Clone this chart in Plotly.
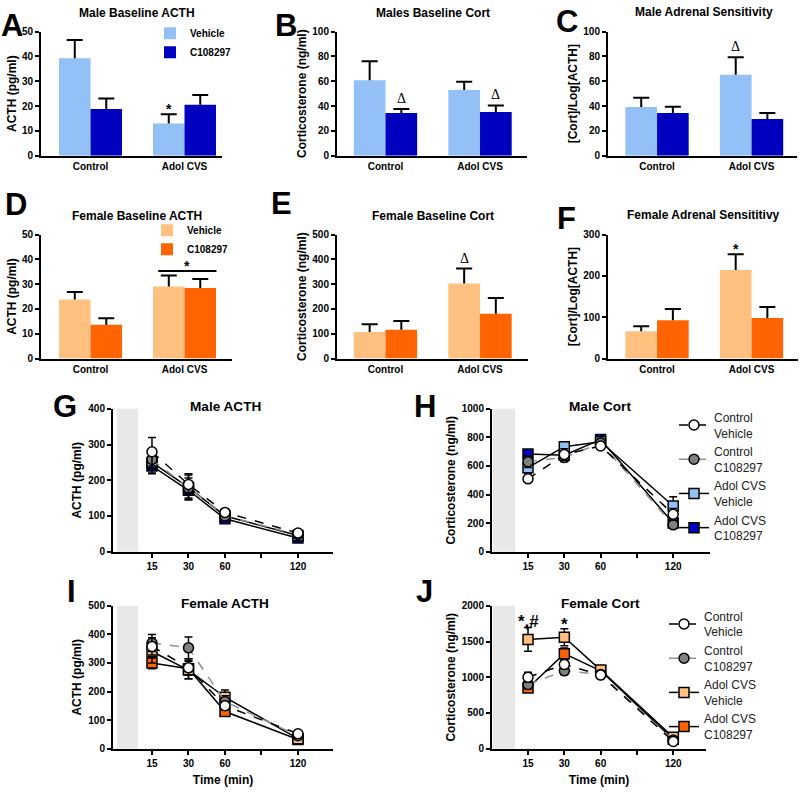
import plotly.graph_objects as go

W, H = 800, 797
FONT = "Liberation Sans, Arial, Helvetica, sans-serif"
SERIF = "Liberation Serif, Times New Roman, serif"

LBLUE = "#93C0F6"
DBLUE = "#0000BF"
LORANGE = "#FFC080"
ORANGE = "#FF6400"
GRAY = "#808080"

groups = ["Control", "Adol CVS"]

# ---- bar panels (mean, SEM) ----
a_veh = [39.3, 13.0]; a_veh_err = [7.3, 3.7]
a_drug = [18.8, 20.5]; a_drug_err = [4.3, 4.0]

b_veh = [60.8, 52.9]; b_veh_err = [15.4, 6.6]
b_drug = [34.4, 35.2]; b_drug_err = [3.2, 5.3]

c_veh = [39.2, 65.3]; c_veh_err = [7.6, 14.1]
c_drug = [34.4, 29.6]; c_drug_err = [5.0, 4.8]

d_veh = [23.8, 29.1]; d_veh_err = [3.0, 4.4]
d_drug = [13.6, 28.4]; d_drug_err = [2.7, 3.7]

e_veh = [107, 303]; e_veh_err = [31, 60]
e_drug = [116, 181]; e_drug_err = [36, 63]

f_veh = [66, 214]; f_veh_err = [12, 38]
f_drug = [93, 98]; f_drug_err = [27, 27]

# ---- time courses ----
times = [15, 30, 60, 120]
tick_times = [15, 30, 60, 90, 120]
tick_labels = ["15", "30", "60", "", "120"]
series_names = ["Control<br>Vehicle", "Control<br>C108297", "Adol CVS<br>Vehicle", "Adol CVS<br>C108297"]

# G Male ACTH
g_cv = [280, 188, 110, 52];  g_cv_err = [40, 30, 10, 8]
g_cc = [258, 178, 100, 48];  g_cc_err = [25, 28, 10, 6]
g_av = [250, 180, 100, 45];  g_av_err = [30, 35, 12, 6]
g_ac = [240, 172, 92, 38];   g_ac_err = [22, 25, 8, 5]
# H Male Cort
h_cv = [510, 680, 740, 262]; h_cv_err = [20, 40, 20, 40]
h_cc = [630, 660, 760, 188]; h_cc_err = [40, 30, 25, 20]
h_av = [588, 735, 770, 320]; h_av_err = [40, 30, 25, 65]
h_ac = [684, 675, 785, 200]; h_ac_err = [30, 40, 30, 25]
# I Female ACTH
i_cv = [358, 283, 150, 52];  i_cv_err = [30, 25, 15, 6]
i_cc = [370, 353, 165, 45];  i_cc_err = [30, 38, 20, 6]
i_av = [340, 275, 180, 35];  i_av_err = [40, 30, 25, 5]
i_ac = [300, 280, 130, 32];  i_ac_err = [20, 35, 15, 5]
# J Female Cort
j_cv = [1000, 1180, 1030, 100]; j_cv_err = [70, 60, 40, 20]
j_cc = [900, 1090, 1040, 120];  j_cc_err = [60, 50, 40, 20]
j_av = [1530, 1560, 1100, 160]; j_av_err = [165, 120, 50, 30]
j_ac = [850, 1330, 1090, 130];  j_ac_err = [60, 80, 50, 20]

time_pos = {t: i + 1 for i, t in enumerate(tick_times)}
xpos = [time_pos[t] for t in times]

fig = go.Figure()
layout = {}
annotations = []
shapes = []

BAR_OFF = 0.1675
CAP = 0.085


def px_x(p):
    return p / W


def px_y(p):
    return 1 - p / H


def whiskers(vals, errs, offset, cap):
    xs, ys = [], []
    for i, (v, e) in enumerate(zip(vals, errs)):
        xc = i + offset
        xs += [xc, xc, None, xc - cap, xc + cap, None]
        ys += [v, v + e, None, v + e, v + e, None]
    return xs, ys


def yaxis_common(k, ytop, ybot, yr, dtick, title, standoff):
    return dict(domain=[px_y(ybot), px_y(ytop)], range=yr, dtick=dtick,
                showline=True, linecolor="black", linewidth=2, ticks="outside",
                ticklen=4, tickwidth=2, tickcolor="black", showgrid=False, zeroline=False,
                tickfont=dict(size=10, family=FONT, color="black", weight="bold"),
                title=dict(text=title, font=dict(size=12, family=FONT, color="black", weight="bold"),
                           standoff=standoff),
                anchor=f"x{k}", fixedrange=True)


bar_panels = [
    (1, a_veh, a_veh_err, a_drug, a_drug_err, (LBLUE, DBLUE), 41, 222, 26, 152, [-0.527, 1.399], [0, 50], 10, "ACTH (pg/ml)", "legend"),
    (2, b_veh, b_veh_err, b_drug, b_drug_err, (LBLUE, DBLUE), 337, 527, 26, 152, [-0.513, 1.497], [0, 100], 20, "Corticosterone (ng/ml)", None),
    (3, c_veh, c_veh_err, c_drug, c_drug_err, (LBLUE, DBLUE), 608, 797, 26, 152, [-0.519, 1.481], [0, 100], 20, "[Cort]/Log[ACTH]", None),
    (4, d_veh, d_veh_err, d_drug, d_drug_err, (LORANGE, ORANGE), 41, 232, 232, 358, [-0.527, 1.505], [0, 50], 10, "ACTH (pg/ml)", "legend2"),
    (5, e_veh, e_veh_err, e_drug, e_drug_err, (LORANGE, ORANGE), 337, 528, 232, 358, [-0.513, 1.508], [0, 500], 100, "Corticosterone (ng/ml)", None),
    (6, f_veh, f_veh_err, f_drug, f_drug_err, (LORANGE, ORANGE), 608, 798, 232, 358, [-0.519, 1.492], [0, 300], 100, "[Cort]/Log[ACTH]", None),
]

for (k, veh, veh_err, drug, drug_err, cols, x0, x1, ytop, ybot, xr, yr, dtick, ytitle, leg) in bar_panels:
    for name, vals, col in (("Vehicle", veh, cols[0]), ("C108297", drug, cols[1])):
        fig.add_trace(go.Bar(x=[0, 1], y=vals, name=name, marker=dict(color=col, line=dict(width=0)),
                             offsetgroup=name, xaxis=f"x{k}", yaxis=f"y{k}",
                             showlegend=leg is not None, legend=leg if leg else "legend",
                             hoverinfo="skip"))
    for vals, errs, off in ((veh, veh_err, -BAR_OFF), (drug, drug_err, BAR_OFF)):
        xs, ys = whiskers(vals, errs, off, CAP)
        fig.add_trace(go.Scatter(x=xs, y=ys, mode="lines", line=dict(color="black", width=2),
                                 xaxis=f"x{k}", yaxis=f"y{k}", showlegend=False, hoverinfo="skip"))
    layout[f"xaxis{k}"] = dict(domain=[px_x(x0), px_x(x1)], range=xr, tickvals=[0, 1], ticktext=groups,
                               showline=True, linecolor="black", linewidth=2, ticks="", showgrid=False,
                               zeroline=False, anchor=f"y{k}", fixedrange=True,
                               tickfont=dict(size=10, family=FONT, color="black", weight="bold"))
    layout[f"yaxis{k}"] = yaxis_common(k, ytop, ybot, yr, dtick, ytitle, 3)

styles = [
    dict(symbol="circle", line=dict(color="black", width=1.5, dash="dash")),
    dict(symbol="circle", line=dict(color="#8f8f8f", width=1.5, dash="dash")),
    dict(symbol="square", line=dict(color="black", width=1.5)),
    dict(symbol="square", line=dict(color="black", width=1.5)),
]

line_panels = [
    (7, [g_cv, g_cc, g_av, g_ac], [g_cv_err, g_cc_err, g_av_err, g_ac_err], LBLUE, DBLUE,
     113, 333, 409, 554, [-0.068, 5.959], [0, 400], 100, "ACTH (pg/ml)", None, "", (0.041, 0.616)),
    (8, [h_cv, h_cc, h_av, h_ac], [h_cv_err, h_cc_err, h_av_err, h_ac_err], LBLUE, DBLUE,
     492, 710, 409, 554, [0.008, 6.014], [0, 1000], 200, "Corticosterone (ng/ml)", "legend3", "", (0.036, 0.642)),
    (9, [i_cv, i_cc, i_av, i_ac], [i_cv_err, i_cc_err, i_av_err, i_ac_err], LORANGE, ORANGE,
     113, 333, 609, 754, [-0.068, 5.959], [0, 500], 100, "ACTH (pg/ml)", None, "Time (min)", (0.041, 0.616)),
    (10, [j_cv, j_cc, j_av, j_ac], [j_cv_err, j_cc_err, j_av_err, j_ac_err], LORANGE, ORANGE,
     492, 706, 609, 754, [0.008, 5.90], [0, 2000], 500, "Corticosterone (ng/ml)", "legend4", "Time (min)", (0.036, 0.642)),
]

for (k, series, errs, light, dark, x0, x1, ytop, ybot, xr, yr, dtick, ytitle, leg, xtitle, shade) in line_panels:
    fills = ["white", GRAY, light, dark]
    for idx in (3, 2, 1, 0):
        st = styles[idx]
        fig.add_trace(go.Scatter(
            x=xpos, y=series[idx], name=series_names[idx], mode="lines+markers",
            line=st["line"],
            marker=dict(symbol=st["symbol"], size=10, color=fills[idx], line=dict(color="black", width=1.5)),
            error_y=dict(type="data", array=errs[idx], visible=True, color="black", thickness=1.5, width=4),
            xaxis=f"x{k}", yaxis=f"y{k}", showlegend=leg is not None, legend=leg if leg else "legend",
            legendrank=idx + 1, hoverinfo="skip"))
    layout[f"xaxis{k}"] = dict(domain=[px_x(x0), px_x(x1)], range=xr,
                               tickvals=[time_pos[t] for t in tick_times], ticktext=tick_labels,
                               showline=True, linecolor="black", linewidth=2, ticks="outside", ticklen=4,
                               tickwidth=2, tickcolor="black", showgrid=False, zeroline=False,
                               anchor=f"y{k}", fixedrange=True,
                               tickfont=dict(size=10, family=FONT, color="black", weight="bold"),
                               title=dict(text=xtitle, standoff=8,
                                          font=dict(size=12, family=FONT, color="black", weight="bold")))
    layout[f"yaxis{k}"] = yaxis_common(k, ytop, ybot, yr, dtick, ytitle, 4)
    shapes.append(dict(type="rect", xref=f"x{k}", yref=f"y{k} domain", x0=shade[0], x1=shade[1],
                       y0=0, y1=1, fillcolor="#e8e8e8", line=dict(width=0), layer="below"))

# ---- titles ----
titles = [
    ("Male Baseline ACTH", 137, 7, 12), ("Males Baseline Cort", 433, 7, 12),
    ("Male Adrenal Sensitivity", 704, 6, 12), ("Female Baseline ACTH", 137, 213, 12),
    ("Female Baseline Cort", 433, 213, 12), ("Female Adrenal Sensititivy", 703, 212, 12),
    ("Male ACTH", 225, 407, 13.6), ("Male Cort", 600, 407, 13.6),
    ("Female ACTH", 225, 607, 13.6), ("Female Cort", 600, 607, 13.6),
]
for text, x, y, size in titles:
    annotations.append(dict(text=text, xref="paper", yref="paper", x=px_x(x), y=px_y(y),
                            xanchor="center", yanchor="middle", showarrow=False,
                            font=dict(size=size, family=FONT, color="black", weight="bold")))

letters = [("A", 12, 20), ("B", 286, 20), ("C", 567, 16), ("D", 16, 202), ("E", 281, 201),
           ("F", 566, 216), ("G", 65, 407), ("H", 425, 407), ("I", 71, 594), ("J", 424, 594)]
for text, x, y in letters:
    annotations.append(dict(text=text, xref="paper", yref="paper", x=px_x(x), y=px_y(y),
                            xanchor="center", yanchor="middle", showarrow=False,
                            font=dict(size=31, family=FONT, color="black", weight="bold")))


def mark(k, x, y, text, serif=False, size=14, yshift=0):
    annotations.append(dict(text=text, xref=f"x{k}", yref=f"y{k}", x=x, y=y, xanchor="center",
                            yanchor="bottom", showarrow=False, yshift=yshift,
                            font=dict(size=size, family=SERIF if serif else FONT, color="black",
                                      weight="normal" if serif else "bold")))


mark(1, 1 - BAR_OFF, a_veh[1] + a_veh_err[1], "*", yshift=-5)
mark(2, BAR_OFF, b_drug[0] + b_drug_err[0], "Δ", serif=True, yshift=1)
mark(2, 1 + BAR_OFF, b_drug[1] + b_drug_err[1], "Δ", serif=True, yshift=1)
mark(3, 1 - BAR_OFF, c_veh[1] + c_veh_err[1], "Δ", serif=True, yshift=1)
mark(5, 1 - BAR_OFF, e_veh[1] + e_veh_err[1], "Δ", serif=True, yshift=1)
mark(6, 1 - BAR_OFF, f_veh[1] + f_veh_err[1], "*", yshift=-5)
d_line = max(d_veh[1] + d_veh_err[1], d_drug[1] + d_drug_err[1]) + 1.8
shapes.append(dict(type="line", xref="x4", yref="y4", x0=1 - 0.28, x1=1 + 0.34, y0=d_line, y1=d_line,
                   line=dict(color="black", width=2)))
mark(4, 1 + 0.03, d_line, "*", yshift=-5)
mark(10, xpos[0], j_av[0] + j_av_err[0], "*,#", size=17, yshift=-5)
mark(10, xpos[1], j_av[1] + j_av_err[1], "*", size=17, yshift=-7)

bar_legend_font = dict(size=10, family=FONT, color="black", weight="bold")
line_legend_font = dict(size=12, family=FONT, color="#222222")

fig.update_layout(
    width=W, height=H, margin=dict(l=0, r=0, t=0, b=0),
    paper_bgcolor="white", plot_bgcolor="white",
    barmode="group", bargap=0.33, bargroupgap=0,
    font=dict(family=FONT, color="black"),
    annotations=annotations, shapes=shapes,
    legend=dict(x=px_x(150), y=px_y(13), xanchor="left", yanchor="top", font=bar_legend_font,
                bgcolor="rgba(0,0,0,0)", tracegroupgap=0, itemwidth=30),
    legend2=dict(x=px_x(147), y=px_y(213), xanchor="left", yanchor="top", font=bar_legend_font,
                 bgcolor="rgba(0,0,0,0)", tracegroupgap=0, itemwidth=30),
    legend3=dict(x=px_x(674), y=px_y(403), xanchor="left", yanchor="top", font=line_legend_font,
                 bgcolor="rgba(0,0,0,0)", tracegroupgap=0, itemwidth=30),
    legend4=dict(x=px_x(664), y=px_y(605), xanchor="left", yanchor="top", font=line_legend_font,
                 bgcolor="rgba(0,0,0,0)", tracegroupgap=0, itemwidth=30),
    **layout,
)

fig.write_html("out.html", config={"displayModeBar": False},
               post_script="document.body.style.margin='0px';document.body.style.padding='0px';")
